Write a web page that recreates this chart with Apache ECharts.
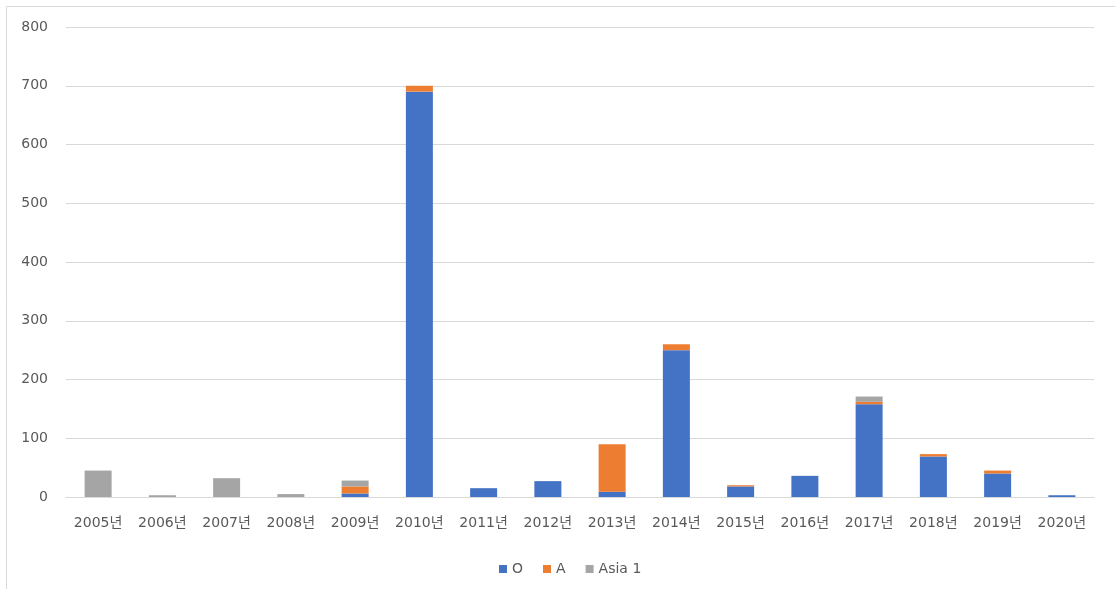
<!DOCTYPE html>
<html>
<head>
<meta charset="utf-8">
<script src="https://cdn.jsdelivr.net/npm/echarts@6/dist/echarts.min.js"></script>
<style>
  html, body { margin: 0; padding: 0; background: #fff; }
  #chart { width: 1115px; height: 589px; }
</style>
</head>
<body>
<div id="chart"></div>
<script>
// Yearly counts stacked by group
const years = ['2005년','2006년','2007년','2008년','2009년','2010년','2011년','2012년',
               '2013년','2014년','2015년','2016년','2017년','2018년','2019년','2020년'];
const seriesO    = [0, 0, 0, 0, 6, 690, 15, 27, 9, 250, 18, 36, 158, 69, 40, 3];
const seriesA    = [0, 0, 0, 0, 12, 10, 0, 0, 81, 10, 2, 0, 4, 4, 5, 0];
const seriesAsia = [45, 3, 32, 5, 10, 0, 0, 0, 0, 0, 0, 0, 9, 0, 0, 0];
const yTicks = { min: 0, max: 800, interval: 100 };

const font = '"DejaVu Sans", "Noto Sans CJK KR", sans-serif';
const chart = echarts.init(document.getElementById('chart'));

function bar(name, data, color) {
  return {
    name, type: 'bar', stack: 'total', data,
    barWidth: 27,
    itemStyle: { color },
    emphasis: { disabled: true }
  };
}

chart.setOption({
  animation: false,
  backgroundColor: '#ffffff',
  graphic: [
    { type: 'line', shape: { x1: 6.5, y1: 6.5, x2: 1115, y2: 6.5 }, style: { stroke: '#d9d9d9', lineWidth: 1 } },
    { type: 'line', shape: { x1: 6.5, y1: 6.5, x2: 6.5, y2: 589 }, style: { stroke: '#d9d9d9', lineWidth: 1 } }
  ],
  grid: { left: 66, right: 21, top: 27, bottom: 92 },
  legend: {
    top: 557, left: 494,
    itemWidth: 8, itemHeight: 8, itemGap: 20,
    icon: 'rect',
    textStyle: { color: '#595959', fontSize: 14, fontFamily: font, padding: [0, 0, 0, 0] },
    data: ['O', 'A', 'Asia 1']
  },
  xAxis: {
    type: 'category', data: years,
    axisLine: { lineStyle: { color: '#d9d9d9' } },
    axisTick: { show: false },
    axisLabel: { color: '#595959', fontSize: 14, fontFamily: font, margin: 19, interval: 0 }
  },
  yAxis: {
    type: 'value', min: yTicks.min, max: yTicks.max, interval: yTicks.interval,
    axisLine: { show: false }, axisTick: { show: false },
    splitLine: { lineStyle: { color: '#d9d9d9' } },
    axisLabel: { color: '#595959', fontSize: 14, fontFamily: font, margin: 18 }
  },
  series: [
    bar('O', seriesO, '#4472c4'),
    bar('A', seriesA, '#ed7d31'),
    bar('Asia 1', seriesAsia, '#a5a5a5')
  ]
});
</script>
</body>
</html>
